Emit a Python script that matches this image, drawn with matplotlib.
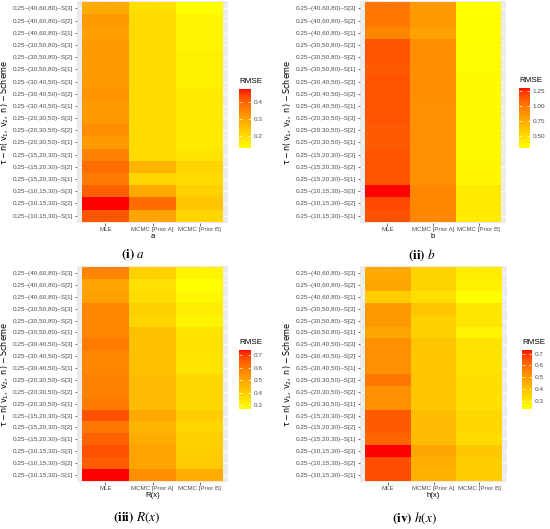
import numpy as np
import matplotlib.pyplot as plt
from matplotlib.colors import ListedColormap

plt.rcParams['font.family'] = ['Liberation Sans', 'DejaVu Sans']

# rows from bottom to top
groups = ["(10,15,30)", "(15,20,30)", "(20,30,50)", "(30,40,50)", "(30,50,80)", "(40,60,80)"]
row_labels = ["0.25\u2013" + g + "\u2013S[" + str(s) + "]" for g in groups for s in (1, 2, 3)]
methods = ["MLE", "MCMC [Prior A]", "MCMC [Prior B]"]

a_mle = [0.42, 0.48, 0.41, 0.37, 0.39, 0.36, 0.32, 0.34, 0.32, 0.32, 0.33, 0.32, 0.32, 0.32, 0.32, 0.31, 0.32, 0.29]
a_pa = [0.30, 0.39, 0.29, 0.21, 0.27, 0.20, 0.20, 0.20, 0.20, 0.20, 0.20, 0.20, 0.20, 0.20, 0.20, 0.20, 0.20, 0.19]
a_pb = [0.21, 0.24, 0.22, 0.20, 0.21, 0.18, 0.17, 0.17, 0.17, 0.17, 0.17, 0.16, 0.16, 0.16, 0.15, 0.15, 0.15, 0.13]

b_mle = [1.15, 1.18, 1.30, 1.14, 1.14, 1.14, 1.12, 1.12, 1.14, 1.14, 1.14, 1.14, 1.12, 1.14, 1.14, 0.93, 1.00, 1.00]
b_pa = [0.93, 0.93, 0.93, 0.88, 0.88, 0.88, 0.88, 0.88, 0.88, 0.88, 0.89, 0.89, 0.89, 0.89, 0.89, 0.80, 0.84, 0.84]
b_pb = [0.42, 0.42, 0.42, 0.35, 0.35, 0.34, 0.34, 0.34, 0.34, 0.33, 0.33, 0.33, 0.32, 0.32, 0.32, 0.31, 0.31, 0.30]

r_mle = [0.74, 0.65, 0.67, 0.64, 0.60, 0.67, 0.59, 0.58, 0.58, 0.57, 0.57, 0.59, 0.57, 0.57, 0.57, 0.51, 0.50, 0.57]
r_pa = [0.55, 0.50, 0.50, 0.48, 0.46, 0.49, 0.44, 0.44, 0.44, 0.43, 0.43, 0.43, 0.43, 0.38, 0.39, 0.36, 0.35, 0.39]
r_pb = [0.48, 0.41, 0.40, 0.39, 0.38, 0.40, 0.37, 0.37, 0.37, 0.34, 0.34, 0.35, 0.34, 0.30, 0.32, 0.29, 0.27, 0.30]

h_mle = [0.66, 0.66, 0.73, 0.62, 0.64, 0.64, 0.52, 0.52, 0.58, 0.52, 0.52, 0.52, 0.47, 0.50, 0.50, 0.37, 0.47, 0.46]
h_pa = [0.44, 0.45, 0.47, 0.41, 0.41, 0.41, 0.39, 0.39, 0.39, 0.38, 0.38, 0.39, 0.36, 0.36, 0.39, 0.32, 0.35, 0.35]
h_pb = [0.37, 0.37, 0.38, 0.33, 0.34, 0.34, 0.32, 0.32, 0.32, 0.31, 0.31, 0.31, 0.26, 0.30, 0.30, 0.23, 0.27, 0.28]


# yellow -> red gradient interpolated in Lab space (like ggplot)
def lab_to_rgb(L, a, b):
    fy = (L + 16) / 116
    fx = fy + a / 500
    fz = fy - b / 200
    def finv(t):
        return np.where(t > 6 / 29, t ** 3, 3 * (6 / 29) ** 2 * (t - 4 / 29))
    xyz = np.stack([0.95047 * finv(fx), finv(fy), 1.08883 * finv(fz)])
    m = np.array([[3.2406, -1.5372, -0.4986], [-0.9689, 1.8758, 0.0415], [0.0557, -0.2040, 1.0570]])
    lin = np.clip(m @ xyz, 0, 1)
    rgb = np.where(lin <= 0.0031308, 12.92 * lin, 1.055 * lin ** (1 / 2.4) - 0.055)
    return np.clip(rgb.T, 0, 1)

t = np.linspace(0, 1, 256)
yellow = np.array([97.14, -21.55, 94.48])
red = np.array([53.24, 80.09, 67.20])
lab = yellow[None, :] + t[:, None] * (red - yellow)[None, :]
cmap = ListedColormap(lab_to_rgb(lab[:, 0], lab[:, 1], lab[:, 2]))

W, H = 550, 529
fig = plt.figure(figsize=(W / 100, H / 100), dpi=100)


def px_axes(x0, y0, x1, y1):
    return fig.add_axes([x0 / W, 1 - y1 / H, (x1 - x0) / W, (y1 - y0) / H])


panels = [
    (a_mle, a_pa, a_pb, "a", r"$\mathbf{(i)}\ a$", (77, 1, 228, 223), (239, 89, 251, 148), [0.2, 0.3, 0.4], "%.1f", (133, 255)),
    (b_mle, b_pa, b_pb, "b", r"$\mathbf{(ii)}\ b$", (360, 1, 506, 223), (519, 88, 530, 148), [0.5, 0.75, 1.0, 1.25], "%.2f", (422, 255)),
    (r_mle, r_pa, r_pb, "R(x)", r"$\mathbf{(iii)}\ R(x)$", (77, 266, 228, 482), (239, 350, 251, 409), [0.3, 0.4, 0.5, 0.6, 0.7], "%.1f", (137, 518)),
    (h_mle, h_pa, h_pb, "h(x)", r"$\mathbf{(iv)}\ h(x)$", (360, 266, 507, 482), (522, 350, 532, 409), [0.3, 0.4, 0.5, 0.6, 0.7], "%.1f", (415, 518)),
]

for mle, pa, pb, xlab, caption, box, cbox, cticks, cfmt, cap_xy in panels:
    ax = px_axes(*box)
    z = np.column_stack([mle, pa, pb])
    ax.set_facecolor('#EBEBEB')
    ax.set_axisbelow(True)
    ax.grid(True, color='white', linewidth=0.6)
    mesh = ax.pcolormesh(np.arange(0.5, 4.0, 1.0), np.arange(0.5, 19.0, 1.0), z,
                         cmap=cmap, vmin=z.min(), vmax=z.max(), zorder=2)
    ax.set_xlim(0.4, 3.6)
    ax.set_ylim(0.4, 18.6)
    ax.set_xticks([1, 2, 3])
    ax.set_xticklabels(methods)
    ax.set_yticks(np.arange(1, 19))
    ax.set_yticklabels(row_labels)
    ax.tick_params(labelsize=4.6, labelcolor='#4D4D4D', color='#333333', length=1.8, width=0.5, pad=1)
    ax.tick_params(axis='x', labelsize=4.4)
    for s in ax.spines.values():
        s.set_visible(False)
    ax.set_xlabel(xlab, fontsize=5.6, labelpad=1)
    ax.set_ylabel(r"$\mathrm{\tau - n(\,v_1,\,v_2,\,n\,) - Scheme}$", fontsize=5.8, labelpad=1,
                  math_fontfamily='dejavusans')

    cax = px_axes(*cbox)
    cb = fig.colorbar(mesh, cax=cax)
    cb.outline.set_visible(False)
    cb.set_ticks(cticks)
    cb.set_ticklabels([cfmt % v for v in cticks])
    cax.tick_params(labelsize=4.6, labelcolor='#4D4D4D', color='white', direction='in',
                    length=2.2, width=0.5, left=True, right=True, pad=2)
    cax.text(0, 1.06, "RMSE", transform=cax.transAxes, fontsize=5.8, ha='left', va='bottom')

    fig.text(cap_xy[0] / W, 1 - cap_xy[1] / H, caption, fontsize=9.5, ha='center', va='center',
             math_fontfamily='stix')

fig.savefig('out.png', dpi=100)
